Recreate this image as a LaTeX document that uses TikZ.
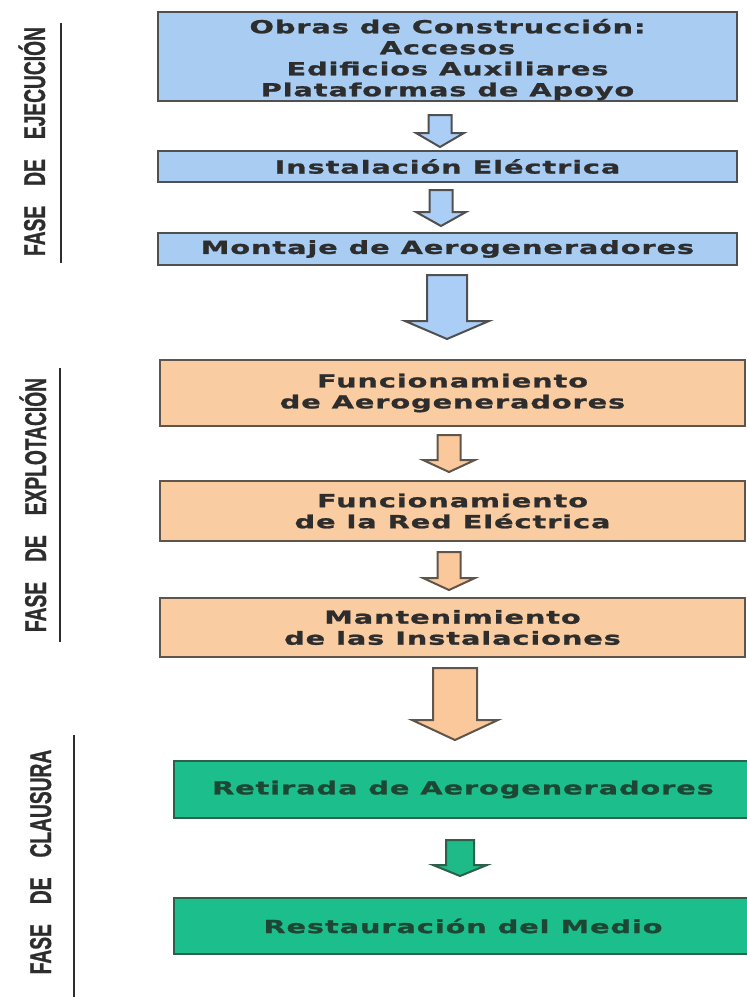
\documentclass[tikz,border=0pt]{standalone}
\usepackage{fontspec}
\newfontfamily\boxfont[FakeStretch=1.6,LetterSpace=5,FakeBold=1.2]{DejaVu Sans Bold}
\newfontfamily\lblfont[FakeStretch=0.64,FakeBold=0.8]{Liberation Sans Bold}
\definecolor{boxblue}{RGB}{168,204,242}
\definecolor{arrblue}{RGB}{170,206,246}
\definecolor{boxorange}{RGB}{249,204,162}
\definecolor{arrorange}{RGB}{250,200,155}
\definecolor{boxgreen}{RGB}{28,190,140}
\definecolor{arrgreen}{RGB}{30,186,136}
\definecolor{lineg}{RGB}{80,80,80}
\definecolor{lineo}{RGB}{95,85,75}
\definecolor{linegr}{RGB}{45,95,75}
\definecolor{txtdark}{RGB}{45,45,45}
\definecolor{txtgreen}{RGB}{30,70,52}
\newcommand\blkarrow[7]{%
  \draw[#1] (#2-#6,#3) -- (#2+#6,#3) -- (#2+#6,#4) -- (#2+#7,#4) -- (#2,#5)
    -- (#2-#7,#4) -- (#2-#6,#4) -- cycle;}
\tikzset{
  boxtext/.style={inner sep=0pt, align=center, text=txtdark,
    font=\boxfont\fontsize{18}{21}\selectfont},
  box/.style={rectangle, line width=2.5pt, boxtext},
  bluebox/.style={box, draw=lineg, fill=boxblue, minimum width=579pt},
  orangebox/.style={box, draw=lineo, fill=boxorange, minimum width=585pt},
  greenbox/.style={box, draw=linegr, fill=boxgreen, text=txtgreen, minimum width=578pt},
  barr/.style={draw=lineg, line width=2pt, fill=arrblue, line join=miter},
  oarr/.style={draw=lineo, line width=2pt, fill=arrorange, line join=miter},
  garr/.style={draw=linegr, line width=2pt, fill=arrgreen, line join=miter},
  lbl/.style={rotate=90, anchor=base, inner sep=0pt, text=txtdark,
    font=\lblfont\fontsize{30}{30}\selectfont},
  ulline/.style={draw=txtdark, line width=2pt}
}
\begin{document}
\begin{tikzpicture}[x=1pt,y=-1pt]
\useasboundingbox[fill=white] (0,0) rectangle (747,997);

% phase labels
\node[lbl] (l1) at (45,141.5) {FASE\hspace{20pt}DE\hspace{20pt}EJECUCIÓN};
\draw[ulline] (61,23) -- (61,263);
\node[lbl] (l2) at (46,505) {FASE\hspace{20pt}DE\hspace{20pt}EXPLOTACIÓN};
\draw[ulline] (60,368) -- (60,642);
\node[lbl] (l3) at (51,862) {FASE\hspace{20pt}DE\hspace{20pt}CLAUSURA};
\draw[ulline] (74,735) -- (74,997);

% execution phase
\node[bluebox, minimum height=89pt,
  label={[boxtext, yshift=-3pt]center:{Obras de Construcción:\\Accesos\\Edificios Auxiliares\\Plataformas de Apoyo}}]
  (b1) at (447.5,56.5) {};
\node[bluebox, minimum height=31pt] (b2) at (447.5,166.5) {Instalación Eléctrica};
\node[bluebox, minimum height=32pt] (b3) at (447.5,249) {Montaje de Aerogeneradores};

% operation phase
\node[orangebox, minimum height=66pt] (b4) at (452.5,393) {Funcionamiento\\de Aerogeneradores};
\node[orangebox, minimum height=60pt] (b5) at (452.5,511) {Funcionamiento\\de la Red Eléctrica};
\node[orangebox, minimum height=59pt] (b6) at (452.5,627.5) {Mantenimiento\\de las Instalaciones};

% closure phase
\node[greenbox, minimum height=57pt] (b7) at (463,789.5) {Retirada de Aerogeneradores};
\node[greenbox, minimum height=56pt] (b8) at (463,926) {Restauración del Medio};

% block arrows
\blkarrow{barr}{440}{115}{133}{147}{11.5}{24}
\blkarrow{barr}{441}{190}{212}{226}{11.5}{25}
\blkarrow{barr}{447}{275}{321}{339}{20}{42}
\blkarrow{oarr}{449}{435}{460}{472}{11.5}{26}
\blkarrow{oarr}{449}{552}{578}{590}{11.5}{26}
\blkarrow{oarr}{455}{668}{720}{740}{22}{43}
\blkarrow{garr}{460}{840}{865}{876}{14}{27}
\end{tikzpicture}
\end{document}
